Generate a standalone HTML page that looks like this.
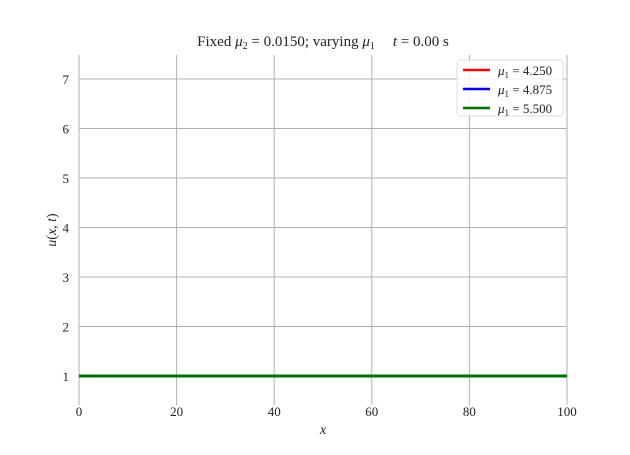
<!DOCTYPE html>
<html><head><meta charset="utf-8"><style>
body{margin:0;background:#fff}
svg text{font-family:"Liberation Serif",serif;fill:#222}
</style></head><body>
<svg id="chart" width="630" height="450" xmlns="http://www.w3.org/2000/svg">
<g id="grid"></g>
<g id="axes"></g>
<g id="series"></g>
<text x="323" y="46" text-anchor="middle" font-size="15">Fixed <tspan font-style="italic">μ</tspan><tspan font-size="10" dy="3">2</tspan><tspan dy="-3"> = 0.0150; varying </tspan><tspan font-style="italic">μ</tspan><tspan font-size="10" dy="3">1</tspan><tspan dy="-3" dx="18" font-style="italic">t</tspan> = 0.00 s</text>
<text x="323" y="434" text-anchor="middle" font-size="14" font-style="italic">x</text>
<text transform="translate(56,230) rotate(-90)" text-anchor="middle" font-size="14"><tspan font-style="italic">u</tspan>(<tspan font-style="italic">x, t</tspan>)</text>
<g>
<rect x="457" y="60" width="106" height="56" rx="3" fill="#fff" fill-opacity="0.85" stroke="#ddd"/>
<g id="legend-items"></g>
</g>
</svg>
<script>
const xValues=[0,100];
const seriesA=[1,1];
const seriesB=[1,1];
const seriesC=[1,1];
const seriesLabels=["4.250","4.875","5.500"];
const xTicks=[0,20,40,60,80,100];
const yTicks=[1,2,3,4,5,6,7];
const colors=["#ff0000","#0000ff","#007000"];
const L=79,R=567,T=55,B=405;
const xs=v=>L+(v-0)/(100-0)*(R-L);
const ys=v=>376-(v-1)*49.5;
const NS="http://www.w3.org/2000/svg";
function mk(tag,attrs,parent){const e=document.createElementNS(NS,tag);for(const k in attrs)e.setAttribute(k,attrs[k]);parent.appendChild(e);return e;}
const grid=document.getElementById('grid'),axes=document.getElementById('axes'),ser=document.getElementById('series');
xTicks.forEach(t=>{
 const l=mk('line',{x1:xs(t),x2:xs(t),y1:T,y2:B,stroke:'#b0b0b0','stroke-width':1},grid);
 
 
 const tx=mk('text',{x:xs(t),y:416,'text-anchor':'middle','font-size':13},axes);
 tx.textContent=t;
 
 
});
yTicks.forEach(t=>{
 const l=mk('line',{x1:L,x2:R,y1:ys(t),y2:ys(t),stroke:'#b0b0b0','stroke-width':1},grid);
 
 
 const tx=mk('text',{x:69,y:ys(t)+5,'text-anchor':'end','font-size':13},axes);
 tx.textContent=t;
 
 
});
[seriesA,seriesB,seriesC].forEach((s,i)=>{
 const p=mk('polyline',{points:s.map((v,j)=>xs(xValues[j])+','+ys(v)).join(' '),fill:'none',stroke:colors[i],'stroke-width':3},ser);
 
 
});
const li=document.getElementById('legend-items');
seriesLabels.forEach((lab,i)=>{
 const y=70+i*19;
 const ln=mk('line',{x1:463,x2:490,y1:y,y2:y,stroke:colors[i],'stroke-width':2.5},li);
 
 
 const tx=mk('text',{x:498,y:y+5,'font-size':13},li);
 tx.innerHTML='<tspan font-style="italic">μ</tspan><tspan font-size="9" dy="3">1</tspan><tspan dy="-3"> = '+lab+'</tspan>';
 
 
});
</script>
</body></html>
